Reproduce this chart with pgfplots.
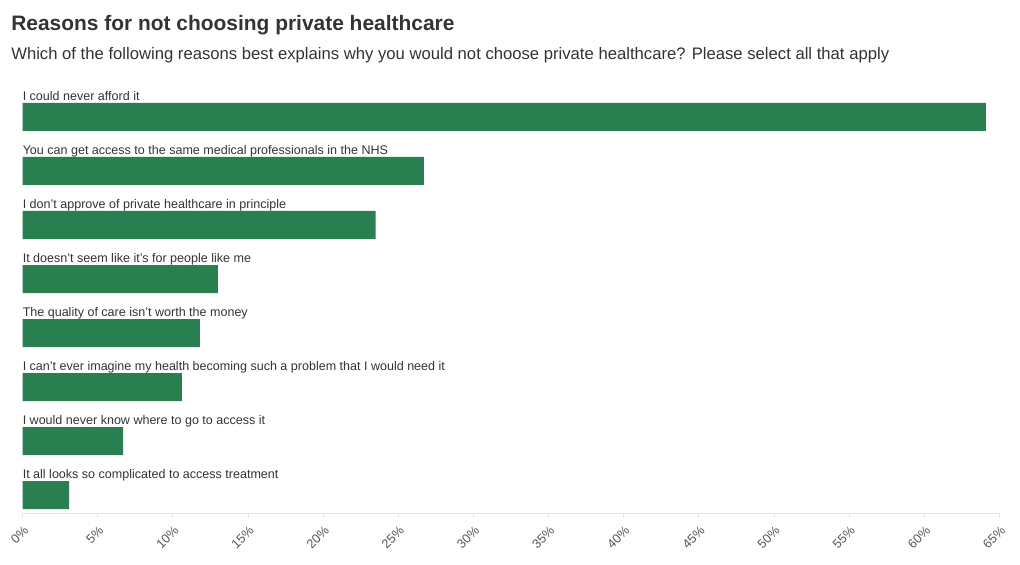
\documentclass[border=0pt]{standalone}
\usepackage{pgfplots}
\pgfplotsset{compat=1.18}
\usepackage{fontspec}
\setmainfont{Liberation Sans}
\definecolor{bargreen}{HTML}{2A7F50}
\definecolor{txt}{HTML}{333333}
\definecolor{ticktxt}{HTML}{555555}
\definecolor{axisgray}{HTML}{E6E6E6}
\begin{document}
\begin{tikzpicture}
\path[use as bounding box] (0,0) rectangle (765pt,423pt);
\node[anchor=base west, inner sep=0, font=\fontsize{15.7pt}{18pt}\selectfont\bfseries, text=txt] at (8.25pt,399.75pt) {Reasons for not choosing private healthcare};
\node[anchor=base west, inner sep=0, font=\fontsize{12.5pt}{15pt}\selectfont, text=txt] at (8.25pt,378pt) {Which of the following reasons best explains why you would not choose private healthcare? Please select all that apply};
\begin{axis}[at={(16.875pt,38.25pt)}, anchor=south west, scale only axis,
  width=732.75pt, height=317.25pt,
  xmin=0, xmax=65, ymin=-0.3333, ymax=7.5,
  xbar, bar width=21pt,
  axis x line*=bottom, axis y line=none,
  x axis line style={axisgray, line width=0.75pt},
  xtick={0,5,...,65}, ytick=\empty,
  xticklabel={\pgfmathprintnumber{\tick}\%},
  xtick style={axisgray, line width=0.6pt},
  major tick length=4pt, tick align=outside,
  xticklabel style={xshift=3.5pt, yshift=-7pt, rotate=45, anchor=east, font=\fontsize{9.5pt}{11pt}\selectfont, text=ticktxt, inner sep=1pt},
  /pgf/number format/assume math mode=true,
  clip=false,
]
\addplot[fill=bargreen, draw=none] coordinates {(64.1,7) (26.7,6) (23.5,5) (13.0,4) (11.8,3) (10.6,2) (6.7,1) (3.1,0)};
\begin{scope}[every node/.style={anchor=base west, inner sep=0, font=\fontsize{9.4pt}{11pt}\selectfont, text=txt}]
\node[yshift=12.4pt] at (axis cs:0,7) {I could never afford it};
\node[yshift=12.4pt] at (axis cs:0,6) {You can get access to the same medical professionals in the NHS};
\node[yshift=12.4pt] at (axis cs:0,5) {I don’t approve of private healthcare in principle};
\node[yshift=12.4pt] at (axis cs:0,4) {It doesn’t seem like it’s for people like me};
\node[yshift=12.4pt] at (axis cs:0,3) {The quality of care isn’t worth the money};
\node[yshift=12.4pt] at (axis cs:0,2) {I can’t ever imagine my health becoming such a problem that I would need it};
\node[yshift=12.4pt] at (axis cs:0,1) {I would never know where to go to access it};
\node[yshift=12.4pt] at (axis cs:0,0) {It all looks so complicated to access treatment};
\end{scope}
\end{axis}
\end{tikzpicture}
\end{document}
